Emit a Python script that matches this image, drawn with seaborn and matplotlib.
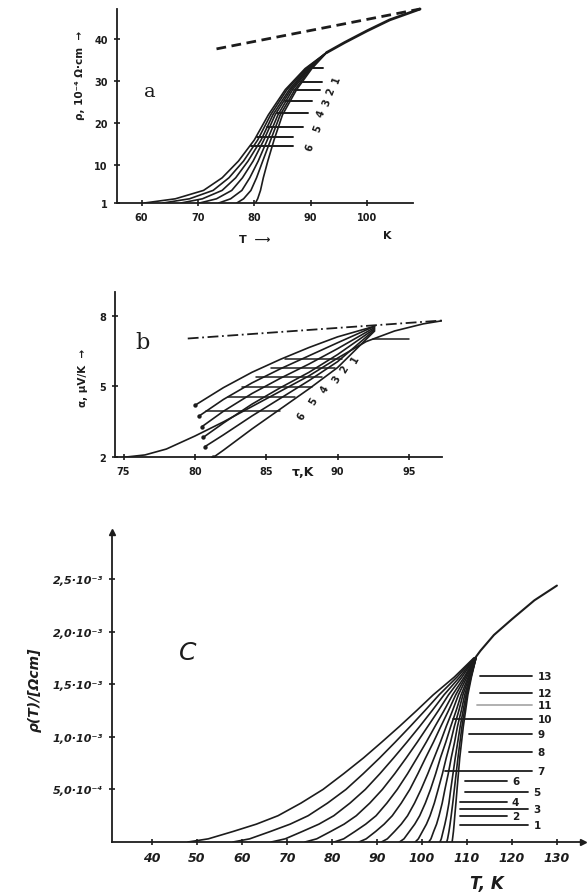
import matplotlib
matplotlib.use("Agg")
import matplotlib.pyplot as plt
import seaborn as sns

# ---- panel a: resistivity rho, 10^-4 Ohm cm ----
a_rho = [1, 2, 4, 7, 11, 16, 22, 28, 33, 36.8]
a_T = [
    [60.5, 66.0, 71.0, 74.3, 77.2, 80.0, 82.5, 85.5, 89.0, 92.8],
    [63.8, 68.5, 72.7, 75.5, 78.1, 80.6, 82.9, 85.8, 89.2, 92.8],
    [67.0, 70.8, 74.3, 76.7, 78.9, 81.2, 83.3, 86.2, 89.4, 92.8],
    [70.3, 73.3, 76.0, 77.9, 79.8, 81.7, 83.7, 86.5, 89.6, 92.8],
    [73.7, 75.8, 77.8, 79.2, 80.7, 82.3, 84.2, 86.8, 89.8, 92.8],
    [76.9, 78.1, 79.4, 80.4, 81.5, 82.9, 84.6, 87.2, 90.0, 92.8],
    [80.2, 80.6, 81.1, 81.6, 82.4, 83.5, 85.0, 87.5, 90.2, 92.8],
]
a_env_T = [92.8, 96.0, 100.0, 104.0, 109.4]
a_env_rho = [36.8, 39.2, 42.0, 44.6, 47.2]
a_dash_T = [73.3, 109.4]
a_dash_rho = [37.7, 47.2]
a_lvl = [33.2, 29.7, 27.8, 25.2, 22.5, 19.2, 16.8, 14.6]
a_lx0 = [90.5, 88.2, 87.0, 85.5, 84.0, 82.3, 80.5, 79.5]
a_lx1 = [92.2, 92.0, 91.6, 90.2, 89.5, 88.7, 86.9, 86.9]
a_nums = ["1", "2", "3", "4", "5", "6"]
a_num_T = [94.6, 93.6, 92.8, 91.8, 91.3, 89.9]
a_num_rho = [30.5, 27.8, 25.0, 22.5, 19.0, 14.4]

# ---- panel b: thermopower alpha, muV/K ----
b_T = [
    [75, 76.5, 78, 80, 82, 84, 86, 88, 90, 92, 94, 96, 97.5],
    [80.0, 82, 84, 86, 88, 90, 92.6],
    [80.3, 82, 84, 86, 88, 90, 92.6],
    [80.5, 82, 84, 86, 88, 90, 92.6],
    [80.6, 82, 84, 86, 88, 90, 92.6],
    [80.7, 82, 84, 86, 88, 90, 92.6],
    [81.3, 82, 84, 86, 88, 90, 92.6],
]
b_alpha = [
    [2.0, 2.1, 2.35, 2.9, 3.5, 4.15, 4.8, 5.45, 6.2, 6.9, 7.35, 7.65, 7.8],
    [4.2, 4.95, 5.6, 6.15, 6.65, 7.1, 7.55],
    [3.75, 4.45, 5.15, 5.75, 6.3, 6.85, 7.55],
    [3.3, 3.95, 4.7, 5.35, 5.95, 6.6, 7.5],
    [2.85, 3.45, 4.25, 4.95, 5.6, 6.35, 7.45],
    [2.45, 2.95, 3.75, 4.5, 5.25, 6.05, 7.4],
    [2.0, 2.3, 3.2, 4.05, 4.9, 5.8, 7.35],
]
b_dash_T = [79.5, 97.5]
b_dash_alpha = [7.03, 7.8]
b_lvl = [7.0, 6.17, 5.78, 5.40, 4.97, 4.55, 3.98]
b_lx0 = [92.5, 86.3, 85.3, 84.3, 83.3, 82.3, 80.8]
b_lx1 = [95.0, 90.3, 89.8, 88.9, 88.2, 87.0, 86.0]
b_nums = ["6", "5", "4", "3", "2", "1"]
b_num_T = [87.5, 88.3, 89.1, 89.9, 90.5, 91.2]
b_num_alpha = [3.77, 4.4, 4.9, 5.33, 5.75, 6.17]

# ---- panel c: rho(T), 10^-3 Ohm cm ----
c_rho = [0, 0.03, 0.1, 0.17, 0.25, 0.37, 0.5, 0.65, 0.8, 0.95, 1.1, 1.25, 1.4, 1.57, 1.75]
c_T = [
    [106.7, 106.8, 107.0, 107.15, 107.3, 107.55, 107.8, 108.1, 108.4, 108.8, 109.2, 109.7, 110.2, 111.0, 112.0],
    [105.5, 105.7, 106.0, 106.25, 106.5, 106.85, 107.2, 107.6, 108.0, 108.45, 108.9, 109.45, 110.0, 110.9, 112.0],
    [104.0, 104.3, 104.7, 105.1, 105.5, 106.0, 106.4, 106.9, 107.4, 107.95, 108.5, 109.15, 109.8, 110.85, 112.0],
    [101.5, 102.0, 102.6, 103.25, 103.8, 104.5, 105.1, 105.85, 106.5, 107.25, 107.9, 108.75, 109.5, 110.7, 112.0],
    [98.5, 99.2, 100.1, 101.0, 101.8, 102.75, 103.6, 104.55, 105.4, 106.35, 107.2, 108.2, 109.1, 110.5, 111.9],
    [95.0, 96.0, 97.2, 98.4, 99.5, 100.75, 101.9, 103.05, 104.1, 105.3, 106.4, 107.6, 108.7, 110.3, 111.9],
    [91.0, 92.3, 93.9, 95.4, 96.8, 98.35, 99.8, 101.3, 102.7, 104.1, 105.4, 106.8, 108.1, 110.0, 111.9],
    [86.0, 87.6, 89.7, 91.6, 93.4, 95.4, 97.3, 99.1, 100.8, 102.55, 104.2, 105.9, 107.5, 109.7, 111.8],
    [80.5, 82.6, 85.1, 87.5, 89.8, 92.2, 94.5, 96.8, 98.9, 100.95, 102.9, 104.9, 106.8, 109.4, 111.8],
    [74.0, 76.6, 79.7, 82.7, 85.4, 88.4, 91.2, 93.95, 96.5, 98.95, 101.3, 103.65, 105.9, 108.9, 111.7],
    [66.5, 69.6, 73.4, 77.1, 80.4, 84.0, 87.4, 90.65, 93.7, 96.65, 99.5, 102.25, 104.9, 108.4, 111.7],
    [58.0, 61.7, 66.3, 70.7, 74.7, 79.0, 83.1, 86.95, 90.6, 94.05, 97.4, 100.65, 103.8, 107.8, 111.6],
    [48.0, 52.5, 58.0, 63.2, 68.0, 73.1, 78.0, 82.6, 87.0, 91.05, 95.0, 98.8, 102.5, 107.2, 111.5],
]
c_env_T = [111.8, 113.0, 116.0, 120.0, 125.0, 130.0]
c_env_rho = [1.75, 1.82, 1.97, 2.12, 2.30, 2.44]
c_nums = ["1", "2", "3", "4", "5", "6", "7", "8", "9", "10", "11", "12", "13"]
c_lvl = [0.16, 0.25, 0.31, 0.38, 0.48, 0.58, 0.68, 0.86, 1.03, 1.17, 1.30, 1.42, 1.58]
c_lx0 = [108.5, 108.5, 108.5, 108.5, 109.5, 109.5, 105.2, 110.5, 110.5, 106.8, 112.3, 113.0, 113.0]
c_lx1 = [123.6, 118.8, 123.6, 118.8, 123.6, 118.8, 124.5, 124.5, 124.5, 124.5, 124.5, 124.5, 124.5]

ink = "#1c1c1c"
sns.set_style("ticks")
plt.rcParams["font.family"] = ["DejaVu Sans"]

fig = plt.figure(figsize=(5.87, 8.95), dpi=100)
W, H = 587.0, 895.0


def box(x0, y0, x1, y1):
    return [x0 / W, 1 - y1 / H, (x1 - x0) / W, (y1 - y0) / H]


def style(ax, size=7):
    sns.despine(ax=ax)
    for s in ["left", "bottom"]:
        ax.spines[s].set_color(ink)
        ax.spines[s].set_linewidth(1.3)
    ax.tick_params(direction="inout", length=5, width=1.2, colors=ink,
                   labelsize=size, pad=4)
    for lab in ax.get_xticklabels() + ax.get_yticklabels():
        lab.set_fontweight("bold")
    ax.set_xlabel("")
    ax.set_ylabel("")


# panel a
ax1 = fig.add_axes(box(116.7, 10, 413.3, 204))
for t in a_T:
    sns.lineplot(x=t, y=a_rho, ax=ax1, color=ink, lw=1.2, sort=False, estimator=None)
sns.lineplot(x=a_env_T, y=a_env_rho, ax=ax1, color=ink, lw=2.0, sort=False,
             estimator=None, clip_on=False)
sns.lineplot(x=a_dash_T, y=a_dash_rho, ax=ax1, color=ink, lw=2.0, sort=False,
             estimator=None, clip_on=False, linestyle=(0, (3.5, 2)))
for lv, x0, x1 in zip(a_lvl, a_lx0, a_lx1):
    ax1.plot([x0, x1], [lv, lv], color=ink, lw=1.4)
for n, t, r in zip(a_nums, a_num_T, a_num_rho):
    ax1.text(t, r, n, fontsize=7, fontweight="bold", color=ink, rotation=70,
             ha="center", va="center")
ax1.text(61.5, 27.6, "a", fontsize=14, color=ink, ha="center", va="center",
         family="DejaVu Serif")
ax1.set_xlim(55.6, 108.2)
ax1.set_ylim(1, 47.2)
ax1.set_xticks([60, 70, 80, 90, 100])
ax1.set_yticks([1, 10, 20, 30, 40])
style(ax1)
fig.text(80 / W, 1 - 75 / H, "ρ, 10⁻⁴ Ω·cm  →", rotation=90, fontsize=7.5,
         fontweight="bold", color=ink, ha="center", va="center")
fig.text(255 / W, 1 - 240 / H, "T  ⟶", fontsize=8, fontweight="bold",
         color=ink, ha="center", va="center")
fig.text(387 / W, 1 - 236 / H, "K", fontsize=8, fontweight="bold",
         color=ink, ha="center", va="center")

# panel b
ax2 = fig.add_axes(box(115, 293, 441.7, 458.3))
for t, a in zip(b_T, b_alpha):
    sns.lineplot(x=t, y=a, ax=ax2, color=ink, lw=1.2, sort=False, estimator=None)
sns.scatterplot(x=[t[0] for t in b_T[1:]], y=[a[0] for a in b_alpha[1:]],
                ax=ax2, color=ink, s=10, linewidth=0)
sns.lineplot(x=b_dash_T, y=b_dash_alpha, ax=ax2, color=ink, lw=1.3, sort=False,
             estimator=None, clip_on=False, linestyle=(0, (6, 2, 1, 2)))
for lv, x0, x1 in zip(b_lvl, b_lx0, b_lx1):
    ax2.plot([x0, x1], [lv, lv], color=ink, lw=1.1)
for n, t, a in zip(b_nums, b_num_T, b_num_alpha):
    ax2.text(t, a, n, fontsize=7, fontweight="bold", color=ink, rotation=60,
             ha="center", va="center")
ax2.text(76.3, 6.9, "b", fontsize=16, color=ink, ha="center", va="center",
         family="DejaVu Serif")
ax2.set_xlim(74.4, 97.3)
ax2.set_ylim(2, 9.0)
ax2.set_xticks([75, 80, 85, 90, 95])
ax2.set_yticks([2, 5, 8])
style(ax2)
fig.text(83 / W, 1 - 378 / H, "α, μV/K  →", rotation=90, fontsize=7.5,
         fontweight="bold", color=ink, ha="center", va="center")
fig.text(303 / W, 1 - 473 / H, "τ,K", fontsize=9, fontweight="bold",
         color=ink, ha="center", va="center")

# panel c
ax3 = fig.add_axes(box(112, 533, 583, 843))
for t in c_T:
    sns.lineplot(x=t, y=c_rho, ax=ax3, color=ink, lw=1.2, sort=False, estimator=None)
sns.lineplot(x=c_env_T, y=c_env_rho, ax=ax3, color=ink, lw=1.5, sort=False,
             estimator=None)
for i, (lv, x0, x1) in enumerate(zip(c_lvl, c_lx0, c_lx1)):
    ax3.plot([x0, x1], [lv, lv], color="#aaaaaa" if i == 10 else ink, lw=1.3)
    ax3.text(x1 + 1.2, lv, c_nums[i], fontsize=7.5, fontweight="bold",
             color=ink, ha="left", va="center")
ax3.text(47.9, 1.81, "C", fontsize=18, color=ink, ha="center", va="center",
         style="italic")
ax3.set_xlim(31.1, 135.8)
ax3.set_ylim(0, 2.95)
ax3.set_xticks([40, 50, 60, 70, 80, 90, 100, 110, 120, 130])
ax3.set_yticks([0.5, 1.0, 1.5, 2.0, 2.5])
ax3.set_yticklabels(["5,0·10⁻⁴", "1,0·10⁻³", "1,5·10⁻³", "2,0·10⁻³", "2,5·10⁻³"])
style(ax3, size=8)
ax3.tick_params(axis="x", labelsize=9)
for lab in ax3.get_xticklabels() + ax3.get_yticklabels():
    lab.set_fontstyle("italic")
ax3.plot(1, 0, ">", color=ink, ms=5, transform=ax3.transAxes, clip_on=False)
ax3.plot(0, 1, "^", color=ink, ms=5, transform=ax3.transAxes, clip_on=False)
fig.text(35 / W, 1 - 690 / H, "ρ(T)/[Ωcm]", rotation=90, fontsize=10,
         fontweight="bold", style="italic", color=ink, ha="center", va="center")
fig.text(487 / W, 1 - 884 / H, "T, K", fontsize=12, fontweight="bold",
         style="italic", color=ink, ha="center", va="center")

fig.savefig("out.png", dpi=100, facecolor="white")
